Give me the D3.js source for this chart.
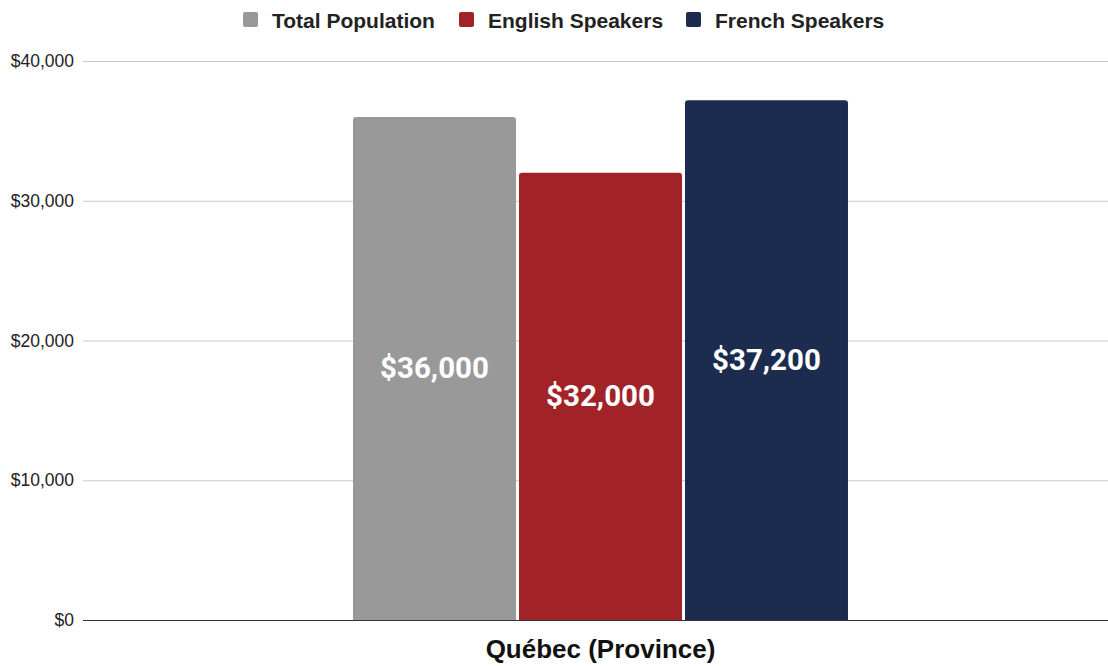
<!DOCTYPE html>
<html>
<head>
<meta charset="utf-8">
<script src="https://cdn.jsdelivr.net/npm/d3@7"></script>
<style>
  body { margin: 0; background: #fff; }
  svg { display: block; }
  .y-axis text { font-family: "Liberation Sans", Arial, sans-serif; font-size: 17.5px; fill: #222; }
</style>
</head>
<body>
<div id="chart"></div>
<script>
// data
var categories = ["Québec (Province)"];
var seriesNames = ["Total Population", "English Speakers", "French Speakers"];
var seriesColors = ["#999999", "#a12328", "#1b2c4e"];
var seriesValues = [[36000], [32000], [37200]];
var yTicks = [0, 10000, 20000, 30000, 40000];

var width = 1108, height = 666;
var margin = { top: 61, right: 0, bottom: 46, left: 83 };

var svg = d3.select("#chart").append("svg")
    .attr("width", width)
    .attr("height", height);

var y = d3.scaleLinear()
    .domain([0, 40000])
    .range([height - margin.bottom, margin.top]);

var x0 = d3.scaleBand()
    .domain(categories)
    .range([margin.left, 1118])
    .paddingInner(0)
    .paddingOuter(0.5455);

var x1 = d3.scaleBand()
    .domain(seriesNames)
    .range([0, x0.bandwidth()])
    .paddingInner(0.018);

// y labels
var yAxis = d3.axisLeft(y)
    .tickValues(yTicks)
    .tickSize(0)
    .tickPadding(9)
    .tickFormat(function(d) { return "$" + d3.format(",")(d); });

svg.append("g")
    .attr("class", "y-axis")
    .attr("transform", "translate(" + margin.left + ",0)")
    .call(yAxis)
    .call(function(g) { g.select(".domain").remove(); });

// gridlines
svg.append("g")
    .selectAll("line")
    .data(yTicks.filter(function(d) { return d > 0; }))
    .enter().append("line")
    .attr("x1", margin.left)
    .attr("x2", width)
    .attr("y1", function(d) { return y(d) + 0.5; })
    .attr("y2", function(d) { return y(d) + 0.5; })
    .attr("stroke", "#c8c8c8")
    .attr("stroke-width", 1);

// bars with rounded tops
function topRounded(x, yy, w, h, r) {
    return "M" + x + "," + (yy + h) +
        "V" + (yy + r) +
        "Q" + x + "," + yy + " " + (x + r) + "," + yy +
        "H" + (x + w - r) +
        "Q" + (x + w) + "," + yy + " " + (x + w) + "," + (yy + r) +
        "V" + (yy + h) + "Z";
}

var bars = [];
categories.forEach(function(c, ci) {
    seriesNames.forEach(function(s, si) {
        bars.push({ cat: c, series: s, value: seriesValues[si][ci], color: seriesColors[si] });
    });
});

var barG = svg.append("g");

barG.selectAll("path")
    .data(bars)
    .enter().append("path")
    .attr("fill", function(d) { return d.color; })
    .attr("d", function(d) {
        var bx = x0(d.cat) + x1(d.series);
        return topRounded(bx, y(d.value), x1.bandwidth(), y(0) - y(d.value), 3);
    });

barG.selectAll("text")
    .data(bars)
    .enter().append("text")
    .attr("x", function(d) { return x0(d.cat) + x1(d.series) + x1.bandwidth() / 2; })
    .attr("y", function(d) { return (y(d.value) + y(0)) / 2; })
    .attr("text-anchor", "middle")
    .attr("dominant-baseline", "central")
    .attr("font-family", "Roboto, sans-serif")
    .attr("font-weight", "bold")
    .attr("font-size", "29.5px")
    .attr("fill", "#fff")
    .text(function(d) { return "$" + d3.format(",")(d.value); });

// baseline
svg.append("line")
    .attr("x1", margin.left)
    .attr("x2", width)
    .attr("y1", y(0) + 0.5)
    .attr("y2", y(0) + 0.5)
    .attr("stroke", "#333")
    .attr("stroke-width", 1);

// x category label
svg.append("g")
    .selectAll("text")
    .data(categories)
    .enter().append("text")
    .attr("x", function(d) { return x0(d) + x0.bandwidth() / 2; })
    .attr("y", 658)
    .attr("text-anchor", "middle")
    .attr("font-family", "'Liberation Sans', Arial, sans-serif")
    .attr("font-weight", "bold")
    .attr("font-size", "26px")
    .attr("fill", "#111")
    .text(function(d) { return d; });

// legend
var legendX = [243, 459, 686];
var legend = svg.append("g");
var items = legend.selectAll("g")
    .data(seriesNames)
    .enter().append("g")
    .attr("transform", function(d, i) { return "translate(" + legendX[i] + ",12)"; });

items.append("rect")
    .attr("width", 15)
    .attr("height", 15)
    .attr("rx", 2)
    .attr("fill", function(d, i) { return seriesColors[i]; });

items.append("text")
    .attr("x", 29)
    .attr("y", 8)
    .attr("dominant-baseline", "central")
    .attr("font-family", "'Liberation Sans', Arial, sans-serif")
    .attr("font-weight", "bold")
    .attr("font-size", "21px")
    .attr("fill", "#222")
    .text(function(d) { return d; });
</script>
</body>
</html>
